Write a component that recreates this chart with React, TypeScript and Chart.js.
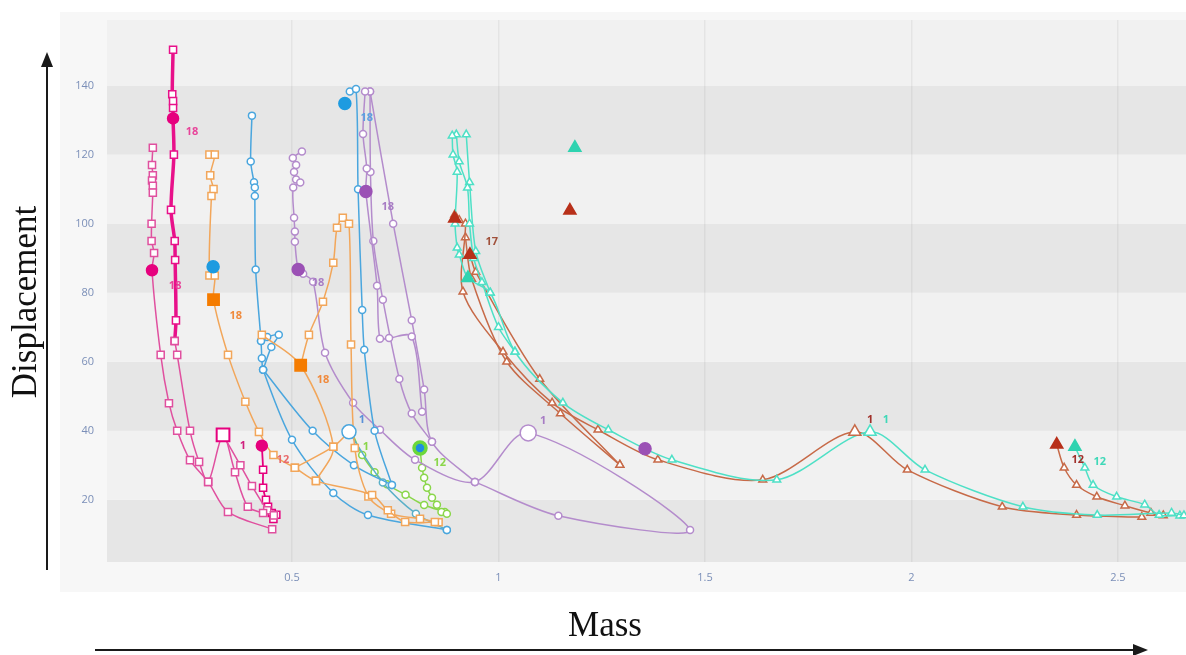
import { useEffect, useRef } from "react";
import { Chart, registerables } from "chart.js";
Chart.register(...registerables);

// ---------- data (Mass, Displacement) ----------
const xTickValues = [0.5, 1, 1.5, 2, 2.5];
const yTickValues = [20, 40, 60, 80, 100, 120, 140];
const bandEdges = [0, 20, 40, 60, 80, 100, 120, 140, 160];

const pinkLeft = [[0.163,122],[0.161,117],[0.163,114],[0.161,112.5],[0.163,111],[0.163,109],[0.160,100],[0.160,95],[0.166,91.5],[0.161,86.5],[0.182,62],[0.202,48],[0.222,40],[0.253,31.5],[0.297,25.2],[0.345,16.5],[0.452,11.5]];
const pinkThick = [[0.212,150.4],[0.210,137.5],[0.212,135.5],[0.212,133.5],[0.212,130.5],[0.214,120],[0.207,104],[0.216,95],[0.217,89.5],[0.219,72],[0.216,66]];
const pinkMid = [[0.216,66],[0.222,62],[0.253,40],[0.275,31],[0.297,25.2],[0.333,38.8],[0.362,28],[0.393,18],[0.43,16.2]];
const pinkRight = [[0.333,38.8],[0.375,30],[0.403,24],[0.44,17],[0.456,15.5]];
const pinkDrop = [[0.427,35.7],[0.43,28.7],[0.43,23.5],[0.437,20],[0.442,18],[0.451,16.2],[0.462,15.7],[0.455,14.5]];
const pinkFilled = [[0.161,86.5],[0.212,130.5],[0.427,35.7]];
const pinkBig = [[0.333,38.8]];

const orangeA = [[0.30,120],[0.313,120],[0.302,114],[0.31,110],[0.305,108],[0.30,85],[0.313,85],[0.31,78],[0.345,62],[0.387,48.4],[0.42,39.7],[0.455,33],[0.507,29.3],[0.558,25.5],[0.694,21.4],[0.732,17],[0.774,13.6],[0.846,13.6]];
const orangeB = [[0.521,59],[0.541,67.8],[0.575,77.4],[0.600,88.7],[0.609,98.8],[0.623,101.7],[0.638,100],[0.643,65],[0.652,35],[0.685,21],[0.74,16],[0.81,14.5],[0.855,13.5]];
const orangeC = [[0.427,67.8],[0.521,59],[0.60,35.4],[0.558,25.5]];
const orangeD = [[0.507,29.3],[0.60,35.4],[0.638,39.7]];
const orangeFilled = [[0.31,78],[0.521,59]];

const blueA = [[0.403,131.3],[0.40,118],[0.408,112],[0.41,110.5],[0.41,108],[0.412,86.7],[0.425,66],[0.427,61],[0.43,57.7],[0.50,37.4],[0.60,22],[0.684,15.6],[0.875,11.3]];
const blueLoop = [[0.425,66],[0.44,67.2],[0.468,67.8],[0.45,64.3],[0.43,57.7]];
const blueB = [[0.640,138.3],[0.655,139],[0.660,110],[0.670,75],[0.675,63.5],[0.70,40],[0.742,24.3]];
const blueC = [[0.43,57.7],[0.55,40],[0.65,30],[0.742,24.3]];
const blueD = [[0.638,39.7],[0.72,25],[0.80,16],[0.875,11.3]];
const blueFilled = [[0.309,87.5],[0.628,134.8]];
const blueBig = [[0.638,39.7]];

const purpleA = [[0.524,120.9],[0.502,119],[0.51,117],[0.505,115],[0.51,112.8],[0.52,111.9],[0.503,110.5],[0.505,101.7],[0.507,97.7],[0.507,94.8],[0.515,86.7],[0.527,85.5],[0.551,83.2],[0.580,62.6],[0.648,48.1],[0.713,40.3],[0.798,31.6],[0.943,25.2],[1.072,39.4],[1.464,11.3],[1.145,15.4],[0.943,25.2]];
const purpleR1 = [[0.677,138.3],[0.672,126],[0.681,116],[0.679,109.3],[0.706,82],[0.713,66.7],[0.735,66.9],[0.79,67.3],[0.815,45.5]];
const purpleR2 = [[0.689,138.3],[0.69,115],[0.697,95],[0.72,78],[0.76,55],[0.79,45],[0.839,36.8]];
const purpleR3 = [[0.689,138.3],[0.745,100],[0.79,72],[0.82,52],[0.839,36.8],[0.943,25.2]];
const purpleFilled = [[0.679,109.3],[0.515,86.7],[1.355,34.8]];
const purpleBig = [[1.072,39.4]];

const greenA = [[0.81,35],[0.815,29.3],[0.82,26.4],[0.827,23.5],[0.839,20.6],[0.851,18.6],[0.862,16.5],[0.875,16]];
const greenB = [[0.645,39.5],[0.67,33],[0.70,28],[0.73,24.5],[0.775,21.5],[0.82,18.5],[0.87,16.5]];
const greenFilled = [[0.81,35]];

const tealA = [[0.888,125.5],[0.89,120],[0.90,115],[0.895,100],[0.90,93],[0.905,91],[0.926,84.3],[0.98,80],[1.04,62.9],[1.156,48.1],[1.266,40.3],[1.42,31.6],[1.674,25.8],[1.90,39.7],[2.033,28.7],[2.27,18],[2.45,15.6],[2.63,16.2],[2.66,15.5]];
const tealB = [[0.898,125.8],[0.905,118],[0.925,110.4],[0.93,100],[0.94,90],[0.96,83],[1.0,70],[1.04,62.9]];
const tealC = [[0.922,125.8],[0.93,112],[0.945,92],[0.98,80]];
const tealD = [[2.396,35.4],[2.42,29.3],[2.44,24.3],[2.497,20.9],[2.565,18.6],[2.60,15.6],[2.65,15.4]];
const tealFilled = [[0.926,84.3],[1.185,122],[2.396,35.4]];
const tealBig = [[1.90,39.7]];

const brownA = [[0.894,102.6],[0.905,101],[0.92,100],[0.914,80.3],[1.011,62.9],[1.13,48.1],[1.241,40.3],[1.386,31.6],[1.64,25.8],[1.863,39.7],[1.99,28.7],[2.22,18],[2.40,15.6],[2.558,15]];
const brownB = [[0.931,91],[0.945,86],[1.10,55],[1.294,30.1]];
const brownC = [[0.92,96],[0.935,84],[1.02,60],[1.15,45],[1.294,30.1]];
const brownD = [[2.352,36],[2.37,29.3],[2.40,24.3],[2.449,20.9],[2.517,18.3],[2.58,16.2],[2.61,15.5]];
const brownFilled = [[0.931,91],[1.173,103.8],[2.352,36],[0.894,101.5]];
const brownBig = [[1.863,39.7]];

const noteText = ["18","18","18","18","18","18","18","1","12","1","12","1","1","17","1","1","12","12"];
const noteX = [0.258,0.217,0.364,0.575,0.681,0.563,0.732,0.381,0.478,1.108,0.858,0.669,0.679,0.984,1.90,1.938,2.403,2.456];
const noteY = [126.7,82,73.3,54.8,130.7,82.9,104.9,35.7,31.6,42.9,30.7,43.2,35.4,94.8,43.2,43.2,31.6,31];
const noteColor = ["#e8449a","#e8449a","#f08a3c","#f08a3c","#5aa0e0","#a77cc4","#a77cc4","#d0207f","#e86a6a","#a77cc4","#8ad64a","#5a90d8","#8ad64a","#a0503a","#a0302a","#3fd8b8","#a0302a","#3fd8b8"];

// ---------- colours ----------
const C = {
  pink: "#e0509f", pinkDark: "#e6007e",
  orange: "#f2a65a", orangeDark: "#f57c00",
  blue: "#4aa6de", blueDark: "#1e9be0",
  purple: "#b48ccc", purpleDark: "#9b51b5",
  green: "#8ad64a",
  teal: "#4ee0c6", tealDark: "#2fd3b0",
  brown: "#c76a48", brownDark: "#b8301a",
};

const pts = (a: number[][]) => a.map(([x, y]) => ({ x, y }));

function line(data: number[][], color: string, style: string, width = 1.5, r = 4) {
  return {
    data: pts(data), showLine: true, borderColor: color, borderWidth: width, tension: 0.3,
    pointStyle: style, pointRadius: r, pointBackgroundColor: "#fff", pointBorderColor: color,
    pointBorderWidth: 1.5, fill: false, order: 1,
  };
}
function marks(data: number[][], fillColor: string, border: string, style: string, r: number, bw = 1.5) {
  return {
    data: pts(data), showLine: false, pointStyle: style, pointRadius: r,
    pointBackgroundColor: fillColor, pointBorderColor: border, pointBorderWidth: bw, order: 0,
  };
}

const bgPlugin = {
  id: "bg",
  beforeDraw(chart: any) {
    const { ctx, chartArea: a, scales } = chart;
    ctx.save();
    ctx.fillStyle = "#f7f7f7";
    ctx.fillRect(60, 12, 1186 - 60, 580);
    const y = scales.y;
    for (let i = 0; i < bandEdges.length - 1; i++) {
      const top = Math.max(a.top, y.getPixelForValue(bandEdges[i + 1]));
      const bot = Math.min(a.bottom, y.getPixelForValue(bandEdges[i]));
      ctx.fillStyle = i % 2 === 0 ? "#e6e6e6" : "#f1f1f1";
      ctx.fillRect(a.left, top, a.right - a.left, bot - top);
    }
    ctx.restore();
  },
  afterDraw(chart: any) {
    const { ctx, scales } = chart;
    ctx.save();
    ctx.font = "bold 11px 'Open Sans'";
    ctx.textAlign = "center";
    ctx.textBaseline = "middle";
    noteText.forEach((t, i) => {
      ctx.fillStyle = noteColor[i];
      ctx.fillText(t, scales.x.getPixelForValue(noteX[i]), scales.y.getPixelForValue(noteY[i]));
    });
    ctx.fillStyle = "#111";
    ctx.font = "35px 'Liberation Serif'";
    ctx.fillText("Mass", 605, 627);
    ctx.translate(27, 302);
    ctx.rotate(-Math.PI / 2);
    ctx.fillText("Displacement", 0, 0);
    ctx.setTransform(1, 0, 0, 1, 0, 0);
    ctx.strokeStyle = "#1a1a1a";
    ctx.fillStyle = "#1a1a1a";
    ctx.lineWidth = 2;
    ctx.beginPath(); ctx.moveTo(47, 570); ctx.lineTo(47, 62); ctx.stroke();
    ctx.beginPath(); ctx.moveTo(47, 52); ctx.lineTo(41, 67); ctx.lineTo(53, 67); ctx.closePath(); ctx.fill();
    ctx.beginPath(); ctx.moveTo(95, 650); ctx.lineTo(1136, 650); ctx.stroke();
    ctx.beginPath(); ctx.moveTo(1148, 650); ctx.lineTo(1133, 644); ctx.lineTo(1133, 656); ctx.closePath(); ctx.fill();
    ctx.restore();
  },
};

export default function App() {
  const ref = useRef<HTMLCanvasElement>(null);
  useEffect(() => {
    const datasets: any[] = [
      marks(pinkBig, "#fff", C.pinkDark, "rect", 9, 2),
      marks(blueBig, "#fff", C.blue, "circle", 7, 1.5),
      marks(purpleBig, "#fff", C.purple, "circle", 8, 1.5),
      marks(tealBig, "#fff", C.teal, "triangle", 7, 1.5),
      marks(brownBig, "#fff", C.brown, "triangle", 7, 1.5),
      marks(pinkFilled, C.pinkDark, C.pinkDark, "circle", 5.5),
      marks(orangeFilled, C.orangeDark, C.orangeDark, "rect", 8),
      marks(blueFilled, C.blueDark, C.blueDark, "circle", 6),
      marks(purpleFilled, C.purpleDark, C.purpleDark, "circle", 6),
      marks(greenFilled, "#1e8fe0", "#6cd83a", "circle", 6, 3.5),
      marks(tealFilled, C.tealDark, C.tealDark, "triangle", 7),
      marks(brownFilled, C.brownDark, C.brownDark, "triangle", 7),
      line(pinkLeft, C.pink, "rect", 1.5, 5),
      line(pinkMid, C.pink, "rect", 1.5, 5),
      line(pinkRight, C.pink, "rect", 1.5, 5),
      line(pinkDrop, C.pinkDark, "rect", 1.8, 5),
      line(pinkThick, "#e8118a", "rect", 3.5, 5),
      line(orangeA, C.orange, "rect", 1.5, 5),
      line(orangeB, C.orange, "rect", 1.5, 5),
      line(orangeC, C.orange, "rect", 1.5, 5),
      line(orangeD, C.orange, "rect", 1.5, 5),
      line(blueA, C.blue, "circle", 1.5, 3.5),
      line(blueLoop, C.blue, "circle", 1.5, 3.5),
      line(blueB, C.blue, "circle", 1.5, 3.5),
      line(blueC, C.blue, "circle", 1.5, 3.5),
      line(blueD, "#5ab0c8", "circle", 1.5, 3.5),
      line(purpleA, C.purple, "circle", 1.5, 3.5),
      line(purpleR1, C.purple, "circle", 1.5, 3.5),
      line(purpleR2, C.purple, "circle", 1.5, 3.5),
      line(purpleR3, C.purple, "circle", 1.5, 3.5),
      line(greenA, C.green, "circle", 1.5, 3.5),
      line(greenB, C.green, "circle", 1.5, 3.5),
      line(tealA, C.teal, "triangle", 1.5, 4.5),
      line(tealB, C.teal, "triangle", 1.5, 4.5),
      line(tealC, C.teal, "triangle", 1.5, 4.5),
      line(tealD, C.teal, "triangle", 1.5, 4.5),
      line(brownA, C.brown, "triangle", 1.5, 4.5),
      line(brownB, C.brown, "triangle", 1.5, 4.5),
      line(brownC, C.brown, "triangle", 1.5, 4.5),
      line(brownD, C.brown, "triangle", 1.5, 4.5),
    ];
    const chart = new Chart(ref.current!, {
      type: "scatter",
      data: { datasets },
      options: {
        animation: false,
        responsive: false,
        layout: { autoPadding: false, padding: { top: 20, left: 0, right: 0, bottom: 0 } },
        plugins: { legend: { display: false }, tooltip: { enabled: false } },
        scales: {
          x: {
            type: "linear", min: 0.052, max: 2.665,
            afterBuildTicks: (s: any) => { s.ticks = xTickValues.map((v) => ({ value: v })); },
            afterFit: (s: any) => { s.height = 93; s.paddingLeft = 0; s.paddingRight = 0; },
            grid: { color: "rgba(0,0,0,0.05)", lineWidth: 1.5, drawTicks: false },
            border: { display: false },
            ticks: { color: "#7b8fb8", font: { size: 11, family: "'Open Sans'" }, padding: 9, maxRotation: 0, callback: (v: any) => String(v) },
          },
          y: {
            type: "linear", min: 2, max: 159,
            afterBuildTicks: (s: any) => { s.ticks = yTickValues.map((v) => ({ value: v })); },
            afterFit: (s: any) => { s.width = 107; s.paddingTop = 0; s.paddingBottom = 0; },
            grid: { display: false, drawTicks: false },
            border: { display: false },
            ticks: { color: "#7b8fb8", font: { size: 11, family: "'Open Sans'" }, padding: 13, callback: (v: any) => String(v) },
          },
        },
      },
      plugins: [bgPlugin],
    } as any);
    return () => chart.destroy();
  }, []);
  return (
    <div style={{ position: "fixed", left: 0, top: 0, width: 1186, height: 655, background: "#fff" }}>
      <canvas ref={ref} width={1186} height={655} style={{ display: "block" }} />
    </div>
  );
}
